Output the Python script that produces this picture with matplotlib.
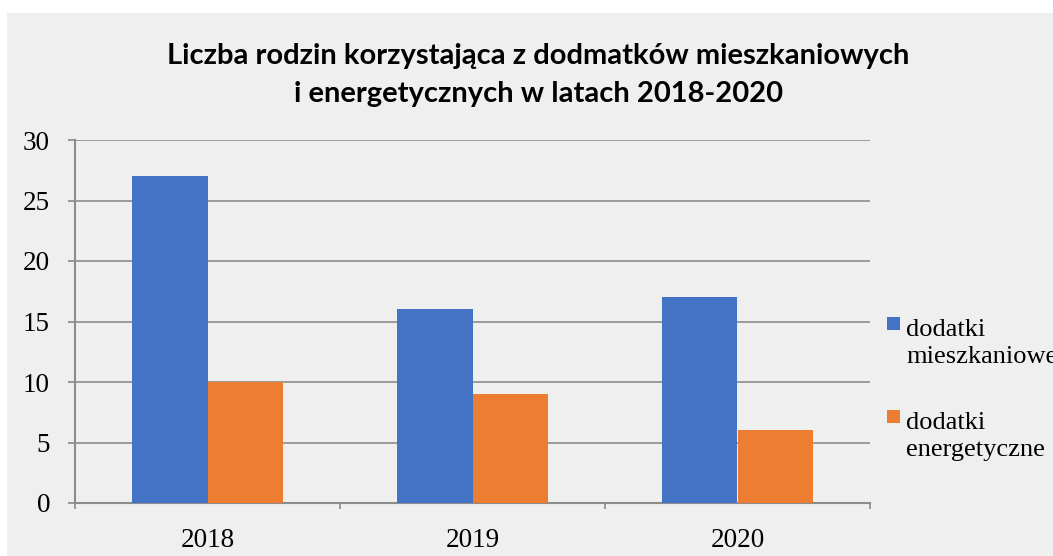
import matplotlib.pyplot as plt
import numpy as np
from matplotlib.patches import Rectangle

years = ["2018", "2019", "2020"]
mieszkaniowe = [27, 16, 17]
energetyczne = [10, 9, 6]
labels = ["dodatki\nmieszkaniowe", "dodatki\nenergetyczne"]
colors = ["#4472c4", "#ed7d31"]

bg = "#efefef"
fig = plt.figure(figsize=(10.53, 5.56), dpi=100)
fig.patch.set_facecolor("white")
fig.patches.append(Rectangle((7 / 1053, 0), 1, 1 - 13 / 556, transform=fig.transFigure,
                             facecolor=bg, edgecolor="none", zorder=-10))

ax = fig.add_axes([75 / 1053, 53 / 556, 795 / 1053, 363 / 556])
ax.set_facecolor(bg)

x = np.arange(len(years))
w = 0.285
ax.bar(x - w / 2, mieszkaniowe, w, color=colors[0], zorder=3)
ax.bar(x + w / 2, energetyczne, w, color=colors[1], zorder=3)

ax.set_xlim(-0.5, 2.5)
ax.set_ylim(0, 30)
ax.set_yticks(range(0, 31, 5))
ax.set_xticks(x)
ax.set_xticklabels(years)
ax.set_xticks([-0.5, 0.5, 1.5, 2.5], minor=True)
ax.tick_params(axis="x", which="major", length=0, pad=18)
ax.tick_params(axis="x", which="minor", length=4, color="#888888", width=1.2)
ax.tick_params(axis="y", length=5, color="#888888", width=1.2, pad=13)
for lab in ax.get_xticklabels() + ax.get_yticklabels():
    lab.set_fontfamily("Liberation Serif")
    lab.set_fontsize(19.5)

ax.grid(axis="y", color="#8c8c8c", linewidth=1.2, zorder=0)
for s in ["top", "right"]:
    ax.spines[s].set_visible(False)
for s in ["left", "bottom"]:
    ax.spines[s].set_color("#8c8c8c")
    ax.spines[s].set_linewidth(1.5)

fig.text(538 / 1053, 1 - 75 / 556,
         "Liczba rodzin korzystająca z dodmatków mieszkaniowych\ni energetycznych w latach 2018-2020",
         ha="center", va="center", fontsize=21, fontweight="bold", family="Lato",
         linespacing=1.55)

# legend drawn by hand: square sits next to the first line of each label
for i, (lab, c) in enumerate(zip(labels, colors)):
    top = 317 + i * 93
    fig.patches.append(Rectangle((887 / 1053, 1 - (top + 13) / 556), 13 / 1053, 13 / 556,
                                 transform=fig.transFigure, facecolor=c, edgecolor="none"))
    fig.text(906 / 1053, 1 - (top + 2) / 556, lab, ha="left", va="top",
             family="Liberation Serif", fontsize=19, linespacing=1.3)

fig.savefig("out.png", dpi=100, facecolor=fig.get_facecolor())
